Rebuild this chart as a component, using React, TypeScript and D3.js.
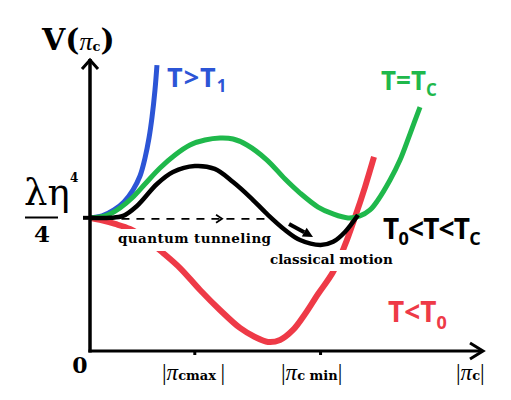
import React from "react";
import * as d3 from "d3";

// Field value |π_c| and potential V (in units of λη⁴/4)
const PI_MAX = 1.0;
const PI_MIN = 2.2;
const V0 = 1.0;

const blackX = [0, 0.19, 0.315, 0.448, 0.639, 0.792, 1.0, 1.19, 1.365, 1.527, 1.689, 1.861, 2.004, 2.2, 2.32, 2.433, 2.557];
const blackV = [1.0, 1.0, 1.014, 1.089, 1.254, 1.344, 1.389, 1.367, 1.269, 1.156, 1.029, 0.909, 0.833, 0.796, 0.82, 0.894, 1.021];

const greenX = [0, 0.095, 0.191, 0.286, 0.401, 0.525, 0.668, 0.811, 0.954, 1.097, 1.24, 1.365, 1.498, 1.689, 1.861, 2.004, 2.176, 2.319, 2.462, 2.576, 2.672, 2.748, 2.863, 2.958, 3.053, 3.149];
const greenV = [1.0, 1.006, 1.029, 1.074, 1.149, 1.254, 1.374, 1.472, 1.547, 1.584, 1.599, 1.592, 1.547, 1.434, 1.291, 1.186, 1.081, 1.029, 0.999, 1.014, 1.059, 1.134, 1.284, 1.434, 1.629, 1.832];

const blueX = [0, 0.115, 0.229, 0.324, 0.41, 0.477, 0.525, 0.563, 0.592, 0.62, 0.639];
const blueV = [1.0, 1.014, 1.059, 1.119, 1.209, 1.314, 1.449, 1.599, 1.757, 1.96, 2.147];

const redX = [0, 0.095, 0.239, 0.382, 0.525, 0.687, 0.859, 1.05, 1.24, 1.431, 1.574, 1.698, 1.813, 1.937, 2.052, 2.176, 2.319, 2.433, 2.529, 2.624, 2.71];
const redV = [1.0, 0.984, 0.954, 0.916, 0.848, 0.743, 0.623, 0.458, 0.308, 0.173, 0.105, 0.068, 0.083, 0.158, 0.278, 0.428, 0.593, 0.796, 1.006, 1.231, 1.457];

// tunneling path along the false-vacuum level, and the rolling arrow
const tunnelX = [0.3, 1.74];
const tunnelHeadX = 1.26;
const rollX = [1.899, 2.128];
const rollV = [0.954, 0.856];

const X_END = 3.75;
const V_TOP = 2.2;

const BLUE = "#2c55d6";
const GREEN = "#1fb84b";
const RED = "#ee3a47";

const xScale = d3.scaleLinear().domain([0, X_END]).range([90, 483]);
const yScale = d3.scaleLinear().domain([0, V_TOP]).range([351, 58]);

const line = d3
  .line<[number, number]>()
  .x((d) => xScale(d[0]))
  .y((d) => yScale(d[1]))
  .curve(d3.curveCatmullRom.alpha(0.5));

const zip = (xs: number[], vs: number[]): [number, number][] => xs.map((x, i) => [x, vs[i]]);

const serif = "'DejaVu Serif', 'Liberation Serif', serif";
const lserif = "'Liberation Serif', 'DejaVu Serif', serif";
const sans = "'Open Sans', 'DejaVu Sans', sans-serif";

function PiLabel({ x, sub }: { x: number; sub: string }) {
  return (
    <text x={x} y={380} fontFamily={lserif} fontSize={23} fill="#000">
      |<tspan fontStyle="italic">π</tspan>
      <tspan fontFamily={serif} fontWeight="bold" fontSize={13}>{sub}</tspan>
      <tspan>|</tspan>
    </text>
  );
}

export default function App() {
  const x0 = xScale(0);
  const y0 = yScale(0);
  const yV0 = yScale(V0);
  const xEnd = xScale(X_END);
  const yTop = yScale(V_TOP);

  const rx0 = xScale(rollX[0]);
  const ry0 = yScale(rollV[0]);
  const rx1 = xScale(rollX[1]);
  const ry1 = yScale(rollV[1]);
  const ang = Math.atan2(ry1 - ry0, rx1 - rx0);
  const headLen = 10;
  const headW = 5;
  const bx = rx1 - headLen * Math.cos(ang);
  const by = ry1 - headLen * Math.sin(ang);
  const px = -Math.sin(ang);
  const py = Math.cos(ang);

  const hx = xScale(tunnelHeadX);

  return (
    <svg width={511} height={400} style={{ position: "absolute", left: 0, top: 0, background: "#fff" }}>
      <rect width={511} height={400} fill="#fff" />

      {/* T < T0 */}
      <path d={line(zip(redX, redV)) || ""} fill="none" stroke={RED} strokeWidth={6} strokeLinecap="butt" />

      {/* text plates over the red branch */}
      <rect x={113} y={229} width={162} height={22} fill="#fff" />
      <rect x={266} y={250} width={128} height={21} fill="#fff" />

      {/* T > T1 */}
      <path d={line(zip(blueX, blueV)) || ""} fill="none" stroke={BLUE} strokeWidth={5} />
      {/* T = Tc */}
      <path d={line(zip(greenX, greenV)) || ""} fill="none" stroke={GREEN} strokeWidth={5} />
      {/* T0 < T < Tc */}
      <path d={line(zip(blackX, blackV)) || ""} fill="none" stroke="#000" strokeWidth={4.5} />

      {/* tunneling path */}
      <line
        x1={xScale(tunnelX[0])}
        x2={xScale(tunnelX[1])}
        y1={yV0 + 1}
        y2={yV0 + 1}
        stroke="#000"
        strokeWidth={1.8}
        strokeDasharray="8 7"
      />
      <path
        d={`M${hx - 6},${yV0 - 3} L${hx},${yV0 + 1} L${hx - 6},${yV0 + 5}`}
        fill="none"
        stroke="#000"
        strokeWidth={1.8}
      />

      {/* classical roll-down arrow */}
      <line x1={rx0} y1={ry0} x2={bx} y2={by} stroke="#000" strokeWidth={4} />
      <path
        d={`M${rx1},${ry1} L${bx + px * headW},${by + py * headW} L${bx - px * headW},${by - py * headW} Z`}
        fill="#000"
      />

      {/* axes */}
      <line x1={x0} y1={y0 + 1.5} x2={x0} y2={yTop + 1} stroke="#000" strokeWidth={3.5} />
      <line x1={x0 - 1.5} y1={y0} x2={xEnd - 1} y2={y0} stroke="#000" strokeWidth={3} />
      <path d={`M${x0 - 8},${yTop + 11} L${x0},${yTop + 2} L${x0 + 8},${yTop + 11}`} fill="none" stroke="#000" strokeWidth={3} />
      <path d={`M${xEnd - 13},${y0 - 8} L${xEnd},${y0} L${xEnd - 13},${y0 + 8}`} fill="none" stroke="#000" strokeWidth={3} />

      {/* ticks */}
      <line x1={x0 - 7} x2={x0} y1={yV0} y2={yV0} stroke="#000" strokeWidth={4} />
      {[PI_MAX, PI_MIN].map((t) => (
        <line key={t} x1={xScale(t)} x2={xScale(t)} y1={y0} y2={y0 + 4} stroke="#000" strokeWidth={3} />
      ))}

      {/* axis labels */}
      <text x={42} y={50} fontFamily={serif} fontWeight="bold" fontSize={30} fill="#000">
        V(<tspan fontFamily={lserif} fontWeight="normal" fontStyle="italic" fontSize={26}>π</tspan>
        <tspan fontSize={13} dy={1}>c</tspan>
        <tspan dy={-1}>)</tspan>
      </text>

      <text x={24} y={205} fontFamily={serif} fontSize={37} fill="#000">
        λη
      </text>
      <text x={70} y={182} fontFamily={serif} fontWeight="bold" fontSize={12} fill="#000">
        4
      </text>
      <line x1={25} x2={58} y1={217.5} y2={217.5} stroke="#000" strokeWidth={2} />
      <text x={42} y={242} textAnchor="middle" fontFamily={serif} fontWeight="bold" fontSize={23} fill="#000">
        4
      </text>

      <text x={80} y={373} textAnchor="middle" fontFamily={serif} fontWeight="bold" fontSize={22} fill="#000">
        0
      </text>

      <PiLabel x={162} sub="cmax " />
      <PiLabel x={281} sub="c min" />
      <PiLabel x={456} sub="c" />

      {/* annotations */}
      <text x={118} y={243} fontFamily={serif} fontWeight="bold" fontSize={13.5} letterSpacing={0.4} fill="#000">
        quantum tunneling
      </text>
      <text x={270} y={264} fontFamily={serif} fontWeight="bold" fontSize={13.5} fill="#000">
        classical motion
      </text>

      <text x={167} y={87} fontFamily={sans} fontWeight="bold" fontSize={27} letterSpacing={1} fill={BLUE}>
        T&gt;T<tspan fontSize={17} dy={5}>1</tspan>
      </text>
      <text x={381} y={90} fontFamily={sans} fontWeight="bold" fontSize={26} fill={GREEN}>
        T=T<tspan fontSize={17} dy={6}>C</tspan>
      </text>
      <text x={383} y={239} fontFamily={sans} fontWeight="bold" fontSize={28} letterSpacing={-0.8} fill="#000">
        T<tspan fontSize={18} dy={6}>0</tspan>
        <tspan dy={-6}>&lt;T&lt;T</tspan>
        <tspan fontSize={18} dy={6}>C</tspan>
      </text>
      <text x={388} y={322} fontFamily={sans} fontWeight="bold" fontSize={28} fill={RED}>
        T&lt;T<tspan fontSize={18} dy={7}>0</tspan>
      </text>
    </svg>
  );
}
